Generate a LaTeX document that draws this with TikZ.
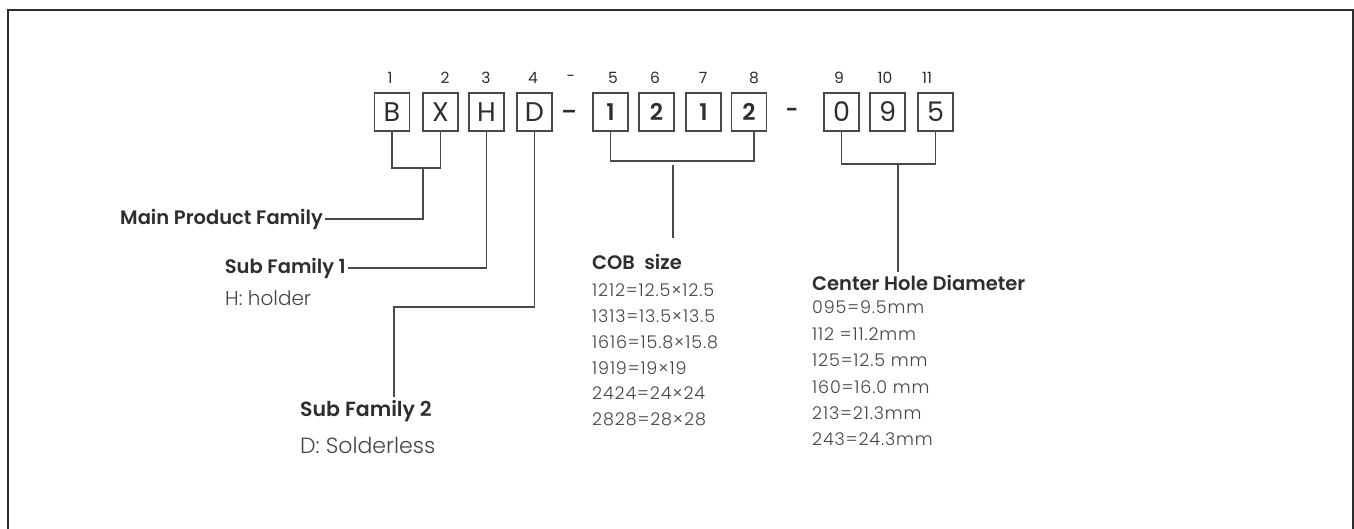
\documentclass[tikz,border=0pt]{standalone}
\usepackage{fontspec}
\setmainfont{Poppins}
\newfontfamily\lightfont{Poppins Light}
\newfontfamily\lightwide{Poppins Light}[LetterSpace=5]
\newfontfamily\semifont{Poppins SemiBold}
\definecolor{linec}{HTML}{4A4A4A}
\definecolor{txtd}{HTML}{2E2E2E}
\definecolor{txtl}{HTML}{444444}
\begin{document}
\begin{tikzpicture}[x=1pt,y=-1pt,
  cbox/.style={draw=linec,line width=1.3pt,minimum width=35pt,minimum height=38pt,inner sep=0pt,text=txtd},
  letr/.style={cbox,font=\fontsize{27}{27}\selectfont},
  digb/.style={cbox,font=\semifont\fontsize{23}{23}\selectfont},
  digr/.style={cbox,font=\fontsize{27}{27}\selectfont},
  idx/.style={font=\fontsize{15.5}{15.5}\selectfont,text=txtd,inner sep=0pt},
  conn/.style={draw=linec,line width=1.2pt},
  lbl/.style={font=\semifont\fontsize{19.5}{19.5}\selectfont,text=txtd,inner sep=0pt},
  lstA/.style={font=\lightwide\fontsize{17.5}{25.7}\selectfont,text=txtl,inner sep=0pt,align=left,anchor=north west},
  lstB/.style={font=\lightwide\fontsize{17.5}{26.4}\selectfont,text=txtl,inner sep=0pt,align=left,anchor=north west}
]
\useasboundingbox (0,0) rectangle (1354,529);
\draw[draw=txtd,line width=1.6pt] (8,529) -- (8,10) -- (1353,10) -- (1353,529);

% boxes
\node[letr] (B) at (392,112) {B};
\node[letr] (X) at (440.5,112) {X};
\node[letr] (H) at (486.5,112) {H};
\node[letr] (D) at (534.5,112) {D};
\node[font=\semifont\fontsize{22}{22}\selectfont,text=txtd,inner sep=0pt] (dash1) at (569,115) {–};
\node[digb] (c1) at (610.5,112) {1};
\node[digb] (c2) at (656.5,112) {2};
\node[digb] (c3) at (703.5,112) {1};
\node[digb] (c4) at (749,112) {2};
\node[font=\semifont\fontsize{22}{22}\selectfont,text=txtd,inner sep=0pt] (dash2) at (792,113) {-};
\node[digr] (d0) at (841.5,112) {0};
\node[digr] (d9) at (887.5,112) {9};
\node[digr] (d5) at (935.5,112) {5};

% indices
\node[idx] (i1) at (390,78) {1};
\node[idx] (i2) at (445,78) {2};
\node[idx] (i3) at (486,78) {3};
\node[idx] (i4) at (533,78) {4};
\node[idx] (i4b) at (571,78) {-};
\node[idx] (i5) at (613,78) {5};
\node[idx] (i6) at (655,78) {6};
\node[idx] (i7) at (703,78) {7};
\node[idx] (i8) at (754,78) {8};
\node[idx] (i9) at (839,78) {9};
\node[idx] (i10) at (885,78) {10};
\node[idx] (i11) at (927,78) {11};

% labels
\node[lbl,anchor=east] (main) at (323,219) {Main Product Family};
\node[lbl,anchor=east] (sf1) at (346,268) {Sub Family 1};
\node[font=\lightfont\fontsize{20}{20}\selectfont,text=txtl,inner sep=0pt,anchor=west] (hh) at (225,298) {H: holder};
\node[lbl,anchor=west,font=\semifont\fontsize{20.5}{20.5}\selectfont] (sf2) at (300,411) {Sub Family 2};
\node[font=\lightfont\fontsize{22}{22}\selectfont,text=txtl,inner sep=0pt,anchor=west] (ds) at (300,445) {D: Solderless};
\node[lbl,anchor=west] (cob) at (592,262) {COB\ \ size};
\node[lstA] (cobl) at (592,284) {1212=12.5×12.5\\1313=13.5×13.5\\1616=15.8×15.8\\1919=19×19\\2424=24×24\\2828=28×28};
\node[lbl,anchor=west] (chd) at (812,283) {Center Hole Diameter};
\node[lstB] (chdl) at (812,301) {095=9.5mm\\112 =11.2mm\\125=12.5 mm\\160=16.0 mm\\213=21.3mm\\243=24.3mm};

% connectors
\coordinate (bxm) at (423,168);
\draw[conn] (B.south) |- (bxm) -| (X.south);
\draw[conn] (bxm) |- ([xshift=2pt]main.east);
\draw[conn] (H.south) |- ([xshift=2pt]sf1.east);
\coordinate (dk) at (394,307);
\coordinate (dend) at (394,397);
\draw[conn] (D.south) |- (dk) -- (dend);
\coordinate (cbm) at (673,161);
\coordinate (cbs) at (673,165);
\coordinate (cbe) at (673,238);
\draw[conn] (c1.south) |- (cbm) -| ([xshift=5pt]c4.south);
\draw[conn] (cbs) -- (cbe);
\coordinate (chm) at (898,164);
\coordinate (che) at (898,272);
\draw[conn] (d0.south) |- (chm) -| (d5.south);
\draw[conn] (chm) -- (che);
\end{tikzpicture}
\end{document}
